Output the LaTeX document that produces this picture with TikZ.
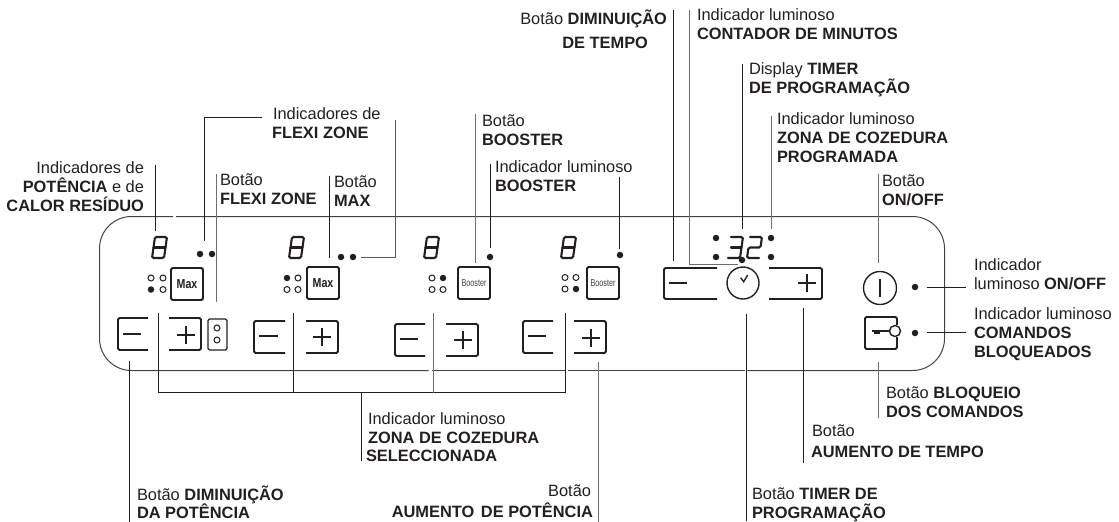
\documentclass[tikz,border=0pt]{standalone}
\usepackage{fontspec}
\setmainfont{Liberation Sans}
\definecolor{ink}{HTML}{231F20}
\definecolor{grayline}{HTML}{6E6E6E}
\tikzset{
  lab/.style={inner sep=0pt,outer sep=0pt,text=ink,font=\fontsize{16.4}{19}\selectfont},
  leader/.style={draw=ink,line width=1pt},
  leadergray/.style={draw=grayline,line width=1.2pt},
  panelline/.style={draw=ink!85,line width=1pt,rounded corners=32pt},
  keyline/.style={draw=ink,line width=1.9pt,rounded corners=1.5pt},
  sign/.style={draw=ink,line width=1.4pt},
  seg/.style={draw=ink,line width=2.1pt,rounded corners=1.5pt,line cap=round},
  dotk/.style={circle,fill=ink,draw=none,minimum size=6.5pt,inner sep=0pt},
  doto/.style={circle,draw=ink,line width=1pt,fill=white,minimum size=6pt,inner sep=0pt},
  keybox/.style={draw=ink,line width=1.9pt,rounded corners=1.5pt,minimum width=32pt,minimum height=32pt,inner sep=0pt,text=ink},
  ring/.style={circle,draw=ink,line width=1.4pt,inner sep=0pt}
}
\newcommand{\lblL}[4]{\node[lab,anchor=north west,align=left] (#1) at (#2,#3-15) {\rule{0pt}{15pt}#4};}
\newcommand{\lblR}[4]{\node[lab,anchor=north east,align=right] (#1) at (#2,#3-15) {\rule{0pt}{15pt}#4};}
\newcommand{\connect}[4][leader]{\coordinate (#2a) at (#3); \coordinate (#2b) at (#4); \draw[#1] (#2a) -- (#2b);}
\newcommand{\eightd}[2]{\begin{scope}[shift={(#1,#2)}]
  \draw[seg] (1.5,10.5) -- (3,0) -- (15,0) -- (13.5,10.5) -- (12,21) -- (0,21) -- cycle;
  \draw[seg] (1.5,10.5) -- (13.5,10.5);
\end{scope}}
\newcommand{\minusbtn}[7]{\draw[keyline] (#3,#2) -- (#1,#2) -- (#1,#4) -- (#3,#4); \draw[sign] (#5,#7) -- (#6,#7);}
\newcommand{\plusbtn}[6]{\draw[keyline] (#1,#2) -- (#3,#2) -- (#3,#4) -- (#1,#4); \draw[sign] (#5-9,#6) -- (#5+9,#6); \draw[sign] (#5,#6-9) -- (#5,#6+9);}
\begin{document}
\begin{tikzpicture}[x=1pt,y=-1pt]
\useasboundingbox (0,0) rectangle (1119,522);
% panel
\begin{scope}[shift={(0.5,0.5)}]
\draw[panelline] (175.6,216) -- (944,216) -- (944,370) -- (746.8,370);
\draw[panelline] (744,370) -- (567,370);
\draw[panelline] (564,370) -- (431,370);
\draw[panelline] (428,370) -- (99,370) -- (99,216) -- (172.7,216);
\end{scope}
% displays
\eightd{152}{237}
\eightd{289}{237}
\eightd{424}{237}
\eightd{561}{237}
% timer digits 3.2
\begin{scope}[shift={(728,237)}]
  \draw[seg] (3,0) -- (15,0) -- (13.5,10.5) -- (12,21) -- (0,21);
  \draw[seg] (3,10.5) -- (13.5,10.5);
\end{scope}
\begin{scope}[shift={(747,237)}]
  \draw[seg] (3,0) -- (15,0) -- (13.5,10.5) -- (1.5,10.5) -- (0,21) -- (12,21);
\end{scope}
% flexi and booster dots
\node[dotk] (fa) at (200,254) {};
\node[dotk] (fb) at (212,254) {};
\node[dotk] (fc) at (341,257) {};
\node[dotk] (fd) at (353,257) {};
\node[dotk] (ba) at (490,257) {};
\node[dotk] (bb) at (620,255) {};
% timer dots
\node[dotk] (ta) at (716,238) {};
\node[dotk] (tb) at (716,257) {};
\node[dotk] (tc) at (771,238) {};
\node[dotk] (td) at (771,257) {};
\node[dotk] (te) at (742,260) {};
\node[dotk] (onoffdot) at (915,287) {};
\node[dotk] (lockdot) at (915,333) {};
% power selection dots
\node[doto] (p1a) at (151,278) {};
\node[doto] (p1b) at (163,278) {};
\node[dotk] (p1c) at (151,289.5) {};
\node[doto] (p1d) at (163,289.5) {};
\node[dotk] (p2a) at (287,278) {};
\node[doto] (p2b) at (298,278) {};
\node[doto] (p2c) at (287,289.5) {};
\node[doto] (p2d) at (298,289.5) {};
\node[doto] (p3a) at (432,278) {};
\node[dotk] (p3b) at (443,278) {};
\node[doto] (p3c) at (432,289.5) {};
\node[doto] (p3d) at (443,289.5) {};
\node[doto] (p4a) at (565,277.5) {};
\node[doto] (p4b) at (576,277.5) {};
\node[doto] (p4c) at (565,289) {};
\node[dotk] (p4d) at (576,289) {};
% max and booster keys
\node[keybox] (max1) at (187,284) {\fontsize{13}{13}\selectfont\bfseries\scalebox{.82}[1]{Max}};
\node[keybox] (max2) at (323,283) {\fontsize{13}{13}\selectfont\bfseries\scalebox{.82}[1]{Max}};
\node[keybox] (boost1) at (474,283) {\fontsize{10}{10}\selectfont\color{ink!85}\scalebox{.72}[1]{Booster}};
\node[keybox] (boost2) at (603,283) {\fontsize{10}{10}\selectfont\color{ink!85}\scalebox{.72}[1]{Booster}};
% plus and minus keys
\minusbtn{118}{318}{148}{350}{123}{141}{334}
\plusbtn{169}{318}{201}{350}{186}{335}
\minusbtn{254}{321}{285}{353}{259}{278}{336}
\plusbtn{306}{321}{338}{353}{322}{337}
\minusbtn{395}{324}{425}{356}{400}{418}{339}
\plusbtn{446}{324}{478}{356}{463}{340}
\minusbtn{523}{321}{553}{353}{528}{546}{336}
\plusbtn{574}{321}{606}{353}{591}{338}
\node[draw=ink,line width=1.3pt,rounded corners=1.5pt,minimum width=19pt,minimum height=31pt,inner sep=0pt] (flexibox) at (217.5,334.5) {};
\node[doto] (fx1) at (217,328) {};
\node[doto] (fx2) at (217,340) {};
% timer keys
\minusbtn{664}{268}{717}{299}{669}{687}{283}
\plusbtn{769}{268}{822}{299}{807}{283}
\node[ring,minimum size=32pt] (clock) at (743,283) {};
\draw[sign] (740.7,277.7) -- (743.7,281.7) -- (747.7,275);
% on/off and lock
\node[ring,minimum size=33pt] (onoff) at (880,288) {};
\draw[sign,line width=1.6pt] (880,279) -- (880,297);
\draw[keyline] (897,325) -- (897,317) -- (865,317) -- (865,349) -- (897,349) -- (897,337);
\node[ring,fill=white,minimum size=11pt] (keyhead) at (895,331) {};
\draw[sign] (872,331) -- (keyhead.west);
\draw[draw=ink,line width=2pt] (874,333) -- (880,333);
% labels
\lblR{lpot}{144}{173}{Indicadores de\\[0.4pt]\textbf{POTÊNCIA} e de\\[0.4pt]\textbf{CALOR RESÍDUO}}
\lblL{lflexi}{273}{119}{Indicadores de\\\hspace*{-1pt}\textbf{FLEXI ZONE}}
\lblL{lbflexi}{220}{185}{Botão\\\textbf{FLEXI ZONE}}
\lblL{lbmax}{334}{187}{Botão\\\textbf{MAX}}
\lblL{lbbooster}{482}{126}{Botão\\\textbf{BOOSTER}}
\lblL{libooster}{495}{172}{Indicador luminoso\\\textbf{BOOSTER}}
\lblR{ldimt}{667}{24}{Botão \textbf{DIMINUIÇÃO}\\[5pt]\textbf{DE TEMPO}\hspace*{19pt}}
\lblL{lcont}{697}{20}{Indicador luminoso\\\textbf{CONTADOR DE MINUTOS}}
\lblL{ldisp}{749}{74}{Display \textbf{TIMER}\\\textbf{DE PROGRAMAÇÃO}}
\lblL{lzprog}{777}{124}{Indicador luminoso\\\textbf{ZONA DE COZEDURA}\\[0.5pt]\textbf{PROGRAMADA}}
\lblL{lonoff}{882}{186}{Botão\\\textbf{ON/OFF}}
\lblL{lionoff}{974}{270}{Indicador\\luminoso \textbf{ON/OFF}}
\lblL{licom}{974}{319}{Indicador luminoso\\\textbf{COMANDOS}\\\textbf{BLOQUEADOS}}
\lblL{lblock}{886}{398}{Botão \textbf{BLOQUEIO}\\\textbf{DOS COMANDOS}}
\lblL{lautmp}{812}{436}{Botão\\[2pt]\hspace*{-1pt}\textbf{AUMENTO DE TEMPO}}
\lblL{ltimer}{752}{499}{Botão \textbf{TIMER DE}\\\textbf{PROGRAMAÇÃO}}
\lblL{lzsel}{368}{424}{Indicador luminoso\\\textbf{ZONA DE COZEDURA}\\[-1pt]\hspace*{-2pt}\textbf{SELECCIONADA}}
\lblL{ldimp}{137}{500}{Botão \textbf{DIMINUIÇÃO}\\[-1pt]\textbf{DA POTÊNCIA}}
\lblR{laup}{593}{496}{Botão\hspace*{2pt}\\[2pt]\textbf{AUMENTO\hspace{2pt} DE POTÊNCIA}}
% connectors
\begin{scope}[shift={(0.5,0.5)}]
\connect{cpot}{155,164}{155,230}
\coordinate (cflexia) at (204,240); \coordinate (cflexim) at (204,117); \coordinate (cflexib) at (261,117);
\draw[leader] (cflexia) -- (cflexim) -- (cflexib);
\coordinate (cflexic) at (395,119); \coordinate (cflexin) at (395,257); \coordinate (cflexid) at (360,257);
\draw[leader,draw=ink!75] (cflexic) -- (cflexin) -- (cflexid);
\connect[leadergray]{cbflexi}{216,173}{216,301}
\connect{cbmax}{329,175}{329,257}
\connect[leadergray]{cbboost}{475,113}{475,262}
\connect{ciba}{490,163}{490,247}
\connect{cibb}{619,176}{619,248}
\connect{cdimt}{673,9}{673,260}
\coordinate (ccona) at (689,9); \coordinate (cconm) at (689,264); \coordinate (cconb) at (737,264);
\draw[leadergray] (ccona) -- (cconm) -- (cconb);
\connect{cdisp}{742,63}{742,228}
\connect[leadergray]{czprog}{771,115}{771,228}
\connect[leadergray]{conoff}{878,173}{878,262}
\connect{cion}{926,287}{965,287}
\connect{cicom}{926,332}{965,332}
\connect[leadergray]{cblock}{878,361}{878,417}
\connect{cautmp}{803,307}{803,462}
\connect{ctimer}{746,313}{746,520}
\connect{cdimp}{129,360}{129,522}
\connect[leadergray]{caup}{598,361}{598,522}
% zone bracket
\coordinate (za) at (158,312); \coordinate (zab) at (158,392);
\coordinate (zb) at (293,312); \coordinate (zbb) at (293,392);
\coordinate (zc) at (433,312); \coordinate (zcb) at (433,392);
\coordinate (zd) at (565,312); \coordinate (zdb) at (565,392);
\coordinate (ze) at (361,392); \coordinate (zeb) at (361,460);
\draw[leader] (za) -- (zab) -- (zdb) -- (zd);
\draw[leader] (zb) -- (zbb);
\draw[leadergray] (zc) -- (zcb);
\draw[leader] (ze) -- (zeb);
\end{scope}
\end{tikzpicture}
\end{document}
